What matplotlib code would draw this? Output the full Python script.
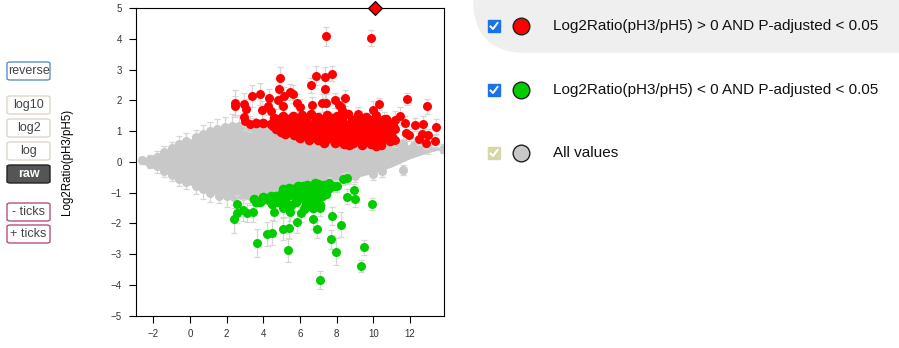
import numpy as np
import matplotlib
matplotlib.use('Agg')
import matplotlib.pyplot as plt
from matplotlib.patches import FancyBboxPatch
from matplotlib.lines import Line2D

plt.rcParams['font.family'] = ['Liberation Sans', 'DejaVu Sans']

W, H = 899, 348

# --- data ----------------------------------------------------------------
# gray "all values" cloud: envelope along x
cloud_x = [-2.7, -2.2, -1.6, -1.0, -0.5, 0, 0.5, 1, 1.5, 2, 2.5, 3, 3.5, 4,
           5, 6, 7, 8, 9, 10, 11, 12, 13, 13.7]
cloud_top = [0.08, 0.12, 0.32, 0.5, 0.63, 0.74, 0.86, 0.98, 1.08, 1.15, 1.2,
             1.22, 1.2, 1.17, 1.07, 0.97, 0.87, 0.77, 0.7, 0.64, 0.6, 0.55,
             0.5, 0.45]
cloud_bot = [-0.08, -0.12, -0.3, -0.48, -0.63, -0.75, -0.87, -0.98, -1.08,
             -1.15, -1.2, -1.22, -1.2, -1.14, -0.97, -0.82, -0.72, -0.63,
             -0.52, -0.37, -0.17, 0.1, 0.3, 0.4]

# gray points on the edge of the cloud (x, y, err)
gray_pts = [(-2.6, 0.05, 0.12), (-2.2, 0.08, 0.15), (-1.8, 0.15, 0.2),
            (-1.4, 0.32, 0.2), (-1.0, 0.45, 0.2), (-0.6, 0.58, 0.25),
            (-0.2, 0.68, 0.25), (0.3, 0.8, 0.25), (0.7, 0.9, 0.3),
            (1.1, 1.0, 0.3), (1.5, 1.08, 0.3), (1.9, 1.12, 0.35),
            (2.3, 1.15, 0.4), (2.7, 1.18, 0.35), (3.1, 1.15, 0.35),
            (3.5, 1.12, 0.3), (-2.2, -0.06, 0.15), (-1.8, -0.15, 0.2),
            (-1.4, -0.3, 0.2), (-1.0, -0.42, 0.2), (-0.6, -0.55, 0.25),
            (-0.2, -0.65, 0.25), (0.3, -0.8, 0.25), (0.7, -0.9, 0.3),
            (1.1, -1.0, 0.3), (1.6, -1.1, 0.25), (2.0, -1.12, 0.35),
            (2.4, -1.15, 0.35), (2.9, -1.12, 0.35), (3.3, -1.1, 0.3),
            (11.6, 0.62, 0.25), (12.2, 0.55, 0.25), (12.6, 0.5, 0.2),
            (13.0, 0.45, 0.2), (13.8, 0.42, 0.15), (9.98, -0.39, 0.2),
            (11.6, -0.27, 0.15), (10.5, -0.3, 0.2), (9.0, -0.45, 0.2),
            (8.6, -0.5, 0.2)]

# red: Log2Ratio > 0 AND P-adjusted < 0.05 (scattered ones, x, y, err)
red_pts = [(7.44, 4.08, 0.3), (9.86, 4.03, 0.25), (4.91, 2.74, 0.35),
           (6.62, 2.49, 0.25), (6.89, 2.80, 0.3), (7.38, 2.77, 0.3),
           (7.76, 2.87, 0.25), (7.38, 2.37, 0.3), (4.87, 2.38, 0.3),
           (5.47, 2.27, 0.25), (5.60, 2.20, 0.3), (3.80, 2.20, 0.35),
           (3.40, 2.14, 0.35), (5.13, 2.14, 0.3), (4.29, 2.07, 0.3),
           (4.78, 2.02, 0.3), (2.44, 1.92, 0.4), (2.44, 1.80, 0.35),
           (2.93, 1.88, 0.35), (3.04, 1.73, 0.3), (2.93, 1.47, 0.3),
           (3.02, 1.34, 0.3), (3.27, 1.23, 0.25), (3.95, 1.69, 0.3),
           (4.26, 1.82, 0.3), (4.40, 1.65, 0.3), (5.07, 1.82, 0.3),
           (5.85, 1.92, 0.3), (6.02, 1.78, 0.25), (6.66, 1.86, 0.25),
           (7.18, 1.91, 0.3), (7.44, 1.92, 0.3), (7.91, 2.00, 0.25),
           (8.47, 2.07, 0.25), (8.11, 1.85, 0.25), (8.25, 1.78, 0.3),
           (8.31, 1.67, 0.25), (9.18, 1.54, 0.25), (9.96, 1.69, 0.3),
           (10.33, 1.87, 0.2), (10.16, 1.53, 0.25), (10.58, 1.38, 0.25),
           (11.45, 1.49, 0.3), (11.84, 2.05, 0.2), (12.93, 1.80, 0.25),
           (11.73, 1.25, 0.25), (12.26, 1.21, 0.2), (12.73, 1.24, 0.25),
           (13.42, 1.14, 0.25), (11.77, 0.95, 0.2), (11.95, 0.86, 0.2),
           (12.48, 0.75, 0.2), (12.67, 0.92, 0.2), (12.98, 0.88, 0.2),
           (12.88, 0.61, 0.2), (13.37, 0.67, 0.2), (11.17, 1.36, 0.3),
           (11.17, 1.06, 0.25), (11.17, 0.72, 0.25)]

# red: dense block (x, y)
red_block = [(4.6, 1.42), (5.1, 1.48), (5.6, 1.50), (6.1, 1.52), (6.6, 1.55),
             (7.0, 1.47), (7.5, 1.53), (8.0, 1.50), (8.6, 1.55), (9.1, 1.44),
             (9.6, 1.47), (10.1, 1.40), (10.7, 1.38),
             (4.85, 1.38), (5.35, 1.40), (5.85, 1.42), (6.35, 1.38),
             (6.85, 1.40), (7.25, 1.37), (7.75, 1.42), (8.3, 1.39),
             (8.85, 1.36), (9.35, 1.39), (9.85, 1.35), (10.4, 1.33),
             (3.6, 1.25), (4.0, 1.27), (4.4, 1.24), (4.8, 1.28), (5.3, 1.30),
             (5.8, 1.33), (6.3, 1.28), (6.8, 1.31), (7.3, 1.26), (7.8, 1.33),
             (8.3, 1.29), (8.8, 1.27), (9.3, 1.30), (9.8, 1.24), (10.3, 1.27),
             (10.8, 1.22), (11.1, 1.18),
             (4.55, 1.16), (5.0, 1.18), (5.55, 1.20), (6.05, 1.17),
             (6.55, 1.21), (7.05, 1.16), (7.55, 1.19), (8.05, 1.18),
             (8.55, 1.20), (9.05, 1.15), (9.55, 1.18), (10.05, 1.13),
             (10.55, 1.16),
             (4.7, 1.08), (5.1, 1.05), (5.5, 1.10), (6.0, 1.06), (6.4, 1.12),
             (6.9, 1.04), (7.4, 1.09), (7.9, 1.07), (8.4, 1.11), (8.9, 1.04),
             (9.4, 1.08), (9.9, 1.02), (10.4, 1.06), (10.9, 1.00),
             (4.95, 0.97), (5.4, 0.98), (5.95, 0.96), (6.45, 0.99),
             (6.95, 0.95), (7.45, 0.98), (7.95, 0.96), (8.45, 0.99),
             (8.95, 0.95), (9.45, 0.97), (9.95, 0.94), (10.5, 0.96),
             (5.2, 0.90), (5.7, 0.88), (6.2, 0.92), (6.7, 0.86), (7.2, 0.90),
             (7.7, 0.87), (8.2, 0.92), (8.7, 0.85), (9.2, 0.90), (9.7, 0.86),
             (10.2, 0.88), (10.7, 0.84), (11.0, 0.80),
             (5.95, 0.81), (6.45, 0.80), (6.95, 0.79), (7.45, 0.81),
             (7.95, 0.78), (8.45, 0.80), (8.95, 0.77), (9.45, 0.79),
             (9.95, 0.76), (10.45, 0.78),
             (6.0, 0.76), (6.5, 0.72), (7.0, 0.70), (7.5, 0.74), (8.0, 0.69),
             (8.5, 0.72), (9.0, 0.67), (9.5, 0.71), (10.0, 0.66), (10.5, 0.70),
             (10.9, 0.68),
             (7.3, 0.62), (7.9, 0.60), (8.4, 0.58), (8.9, 0.60), (9.4, 0.56),
             (9.9, 0.58), (10.4, 0.55), (10.15, 0.52), (8.65, 0.55)]

# value above the axis range, drawn as diamond on the top edge
red_off = (10.1, 5.0)

# green: Log2Ratio < 0 AND P-adjusted < 0.05 (scattered ones, x, y, err)
green_pts = [(2.55, -1.37, 0.3), (2.58, -1.65, 0.35), (2.40, -1.87, 0.45),
             (2.87, -1.56, 0.35), (3.09, -1.65, 0.3), (3.46, -1.62, 0.35),
             (3.64, -2.65, 0.45), (4.18, -2.35, 0.4), (4.46, -2.30, 0.4),
             (4.60, -1.62, 0.3), (5.06, -2.18, 0.35), (5.09, -1.51, 0.3),
             (5.42, -2.16, 0.35), (5.44, -1.62, 0.3), (5.35, -2.87, 0.4),
             (5.86, -1.95, 0.35), (6.04, -1.67, 0.3), (6.69, -1.87, 0.3),
             (6.91, -2.18, 0.3), (7.07, -1.51, 0.25), (7.11, -3.84, 0.3),
             (7.75, -1.77, 0.3), (7.69, -2.52, 0.3), (7.97, -2.92, 0.45),
             (8.22, -2.04, 0.4), (8.58, -1.13, 0.25), (8.95, -0.93, 0.2),
             (9.00, -1.21, 0.25), (9.51, -2.78, 0.25), (9.33, -3.38, 0.2),
             (9.91, -1.37, 0.2), (8.36, -0.56, 0.2), (8.55, -0.53, 0.2),
             (7.87, -0.78, 0.2), (8.04, -0.78, 0.2), (7.57, -0.69, 0.2)]

# green: dense block (x, y)
green_block = [(4.0, -1.15), (4.3, -1.25), (4.5, -1.38), (4.7, -1.10),
               (5.0, -1.0), (5.2, -1.25), (5.4, -0.85), (5.6, -1.05),
               (5.8, -1.3), (5.9, -0.8), (6.1, -1.0), (6.3, -1.25),
               (6.4, -0.75), (6.5, -1.45), (6.6, -1.05), (6.8, -0.7),
               (6.9, -1.2), (7.0, -0.9), (7.1, -1.4), (7.3, -0.75),
               (7.4, -1.05), (7.6, -0.85), (3.8, -1.3), (4.1, -1.2),
               (4.8, -1.3), (5.5, -1.4), (6.2, -1.55), (6.7, -1.5),
               (5.1, -0.9), (5.7, -0.9), (6.0, -1.15), (6.6, -0.85),
               (7.2, -1.1), (4.4, -1.1), (3.5, -1.2), (3.6, -1.32),
               (4.9, -1.15), (5.3, -1.1), (5.75, -1.15), (6.25, -0.9),
               (6.5, -1.2), (6.85, -1.0), (7.0, -0.72), (6.15, -0.78),
               (5.6, -0.88), (6.35, -1.4), (6.9, -1.35), (7.45, -0.9)]

x_ticks = [-2, 0, 2, 4, 6, 8, 10, 12]
y_ticks = [-5, -4, -3, -2, -1, 0, 1, 2, 3, 4, 5]
legend_labels = ['Log2Ratio(pH3/pH5) > 0 AND P-adjusted < 0.05',
                 'Log2Ratio(pH3/pH5) < 0 AND P-adjusted < 0.05',
                 'All values']
buttons = ['reverse', 'log10', 'log2', 'log', 'raw', '- ticks', '+ ticks']

RED, GREEN, GRAY = '#ff0000', '#00cc00', '#c8c8c8'
ERR = '#d6d6d6'

fig = plt.figure(figsize=(W / 100, H / 100), dpi=100)
ax = fig.add_axes([136 / W, 1 - 315.6 / H, 307.7 / W, 307.6 / H])

ax.fill_between(cloud_x, cloud_bot, cloud_top, color=GRAY, lw=0, zorder=2)


def draw_group(pts, color, z):
    a = np.array(pts)
    ax.errorbar(a[:, 0], a[:, 1], yerr=a[:, 2], fmt='none', ecolor=ERR,
                elinewidth=0.9, capsize=2.5, capthick=0.9, zorder=z)
    ax.scatter(a[:, 0], a[:, 1], s=42, color=color, lw=0, zorder=z + 0.5)


draw_group(gray_pts, GRAY, 1)
draw_group(red_pts, RED, 3)
draw_group(green_pts, GREEN, 3)
rb = np.array(red_block)
ax.scatter(rb[:, 0], rb[:, 1], s=48, color=RED, lw=0, zorder=3.6)
gb = np.array(green_block)
ax.scatter(gb[:, 0], gb[:, 1], s=48, color=GREEN, lw=0, zorder=3.6)
ax.plot([red_off[0]], [red_off[1]], marker='D', ms=7, color=RED, mec='k',
        mew=0.8, clip_on=False, zorder=6)

ax.set_xlim(-2.946, 13.84)
ax.set_ylim(-5, 5)
ax.set_xticks(x_ticks)
ax.set_yticks(y_ticks)
ax.tick_params(length=5, width=0.8, labelsize=7, labelcolor='#333333',
               pad=5)
for s in ax.spines.values():
    s.set_linewidth(0.8)
ax.set_ylabel('Log2Ratio(pH3/pH5)', fontsize=8.3, labelpad=27)


def P(x, y):
    return x / W, 1 - y / H


# left buttons
btn_y = [71, 105, 128, 151, 174, 212, 234]
btn_edge = ['#5b8fcc', '#ddd8cc', '#ddd8cc', '#ddd8cc', '#222222',
            '#b8507f', '#b8507f']
for lab, yc, ec in zip(buttons, btn_y, btn_edge):
    fc = '#555555' if lab == 'raw' else 'white'
    tc = 'white' if lab == 'raw' else '#444444'
    x0, y0 = P(7, yc + 9)
    fig.add_artist(FancyBboxPatch((x0, y0), 43 / W, 18 / H,
                                  boxstyle='round,pad=0,rounding_size=0.004',
                                  transform=fig.transFigure, fc=fc, ec=ec,
                                  lw=1.0))
    fig.text(*P(28.5, yc), lab, ha='center', va='center', fontsize=9,
             color=tc, fontweight='bold' if lab == 'raw' else 'normal')

# legend panel
x0, y0 = P(473, 53)
fig.add_artist(FancyBboxPatch((x0, y0), 1, 0.3,
                              boxstyle='round,pad=0,rounding_size=0.06',
                              transform=fig.transFigure, fc='#efefef',
                              ec='none', mutation_aspect=W / H))
leg_y = [26, 90, 153]
leg_col = [RED, GREEN, GRAY]
box_col = ['#1a73e8', '#1a73e8', '#d7d6a6']
for lab, yc, c, bc in zip(legend_labels, leg_y, leg_col, box_col):
    fig.add_artist(Line2D([494 / W], [1 - yc / H], marker='s', ms=8.5,
                          color=bc, mec=bc, transform=fig.transFigure))
    fig.add_artist(Line2D([490.5 / W, 493 / W, 497.5 / W],
                          [1 - (yc + 0.5) / H, 1 - (yc + 3) / H,
                           1 - (yc - 3) / H],
                          color='white', lw=1.4, transform=fig.transFigure))
    fig.add_artist(Line2D([520.5 / W], [1 - yc / H], marker='o', ms=12,
                          color=c, mec='#222222', mew=1.0,
                          transform=fig.transFigure))
    fig.text(*P(553, yc), lab, ha='left', va='center', fontsize=10.95,
             color='#111111')

fig.savefig('out.png', dpi=100)
